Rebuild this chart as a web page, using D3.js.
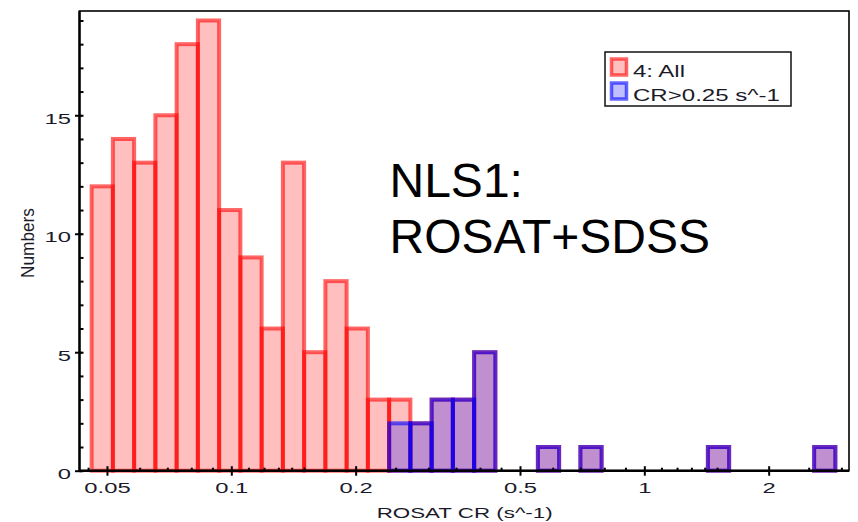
<!DOCTYPE html>
<html><head><meta charset="UTF-8">
<script src="https://cdn.jsdelivr.net/npm/d3@7/dist/d3.min.js"></script>
<style>
  body { margin:0; background:#fff; }
  text { font-family: "Liberation Sans", Arial, Helvetica, sans-serif; }
</style>
</head><body>
<svg id="chart" width="858" height="522"></svg>
<script>
// ───── data ─────
// histogram with equal bins in log10(CR)
const binStart = 0.0459;   // lower edge of first bin, s^-1
const binDex = 0.05145;    // bin width in dex
const allCounts    = [12,14,13,15,18,19,11,9,6,13,5,8,6,3,3,2,3,3,5,0,0,1,0,1,0,0,0,0,0,1,0,0,0,0,1];
const brightCounts = [0,0,0,0,0,0,0,0,0,0,0,0,0,0,2,2,3,3,5,0,0,1,0,1,0,0,0,0,0,1,0,0,0,0,1];
const xMajor = [0.05, 0.1, 0.2, 0.5, 1, 2];
const xMajorLabels = ['0.05', '0.1', '0.2', '0.5', '1', '2'];
const xMinorMantissa = [1.1, 1.2, 1.3, 1.4, 1.5, 2.5, 3, 3.5, 4, 4.5, 6, 7, 8, 9];
const yMajor = [0, 5, 10, 15];
const yMinor = d3.range(0, 20);
const seriesNames = ['4: All', 'CR>0.25 s^-1'];

// ───── layout ─────
const M = { left: 79.5, right: 849, top: 11, bottom: 470.7 };
const x = d3.scaleLog().domain([0.0429, 3.13]).range([M.left, M.right]);
const y = d3.scaleLinear().domain([0, 19.4]).range([M.bottom, M.top]);
const svg = d3.select('#chart');

const RED = { fill: 'rgba(255,0,0,0.25)', stroke: 'rgba(255,0,0,0.6)' };
const BLUE = { fill: 'rgba(0,0,255,0.25)', stroke: 'rgba(0,0,255,0.6)' };

function bins(counts) {
  return counts.map((c, i) => ({
    lo: binStart * Math.pow(10, i * binDex),
    hi: binStart * Math.pow(10, (i + 1) * binDex),
    n: c
  })).filter(b => b.n > 0);
}

function drawBars(counts, col) {
  svg.append('g').selectAll('rect')
    .data(bins(counts)).join('rect')
    .attr('x', d => x(d.lo)).attr('width', d => x(d.hi) - x(d.lo))
    .attr('y', d => y(d.n)).attr('height', d => y(0) - y(d.n))
    .attr('fill', col.fill).attr('stroke', col.stroke).attr('stroke-width', 4);
}
drawBars(allCounts, RED);
drawBars(brightCounts, BLUE);

// ───── axes ─────
const SX = 1.7; // tick labels are stretched horizontally in the original

const xMinor = [];
for (const d of [-2, -1, 0]) for (const m of xMinorMantissa) {
  const v = m * Math.pow(10, d);
  if (v > x.domain()[0] && v < x.domain()[1]) xMinor.push(v);
}

const gxMinor = svg.append('g').attr('transform', `translate(0,${M.bottom})`)
  .call(d3.axisBottom(x).tickValues(xMinor).tickSize(-3).tickFormat(''));
gxMinor.select('.domain').remove();
gxMinor.selectAll('.tick line').attr('stroke-width', 2);

const gx = svg.append('g').attr('transform', `translate(0,${M.bottom})`)
  .call(d3.axisBottom(x).tickValues(xMajor).tickFormat((d, i) => xMajorLabels[i]).tickSize(5));
gx.select('.domain').remove();
gx.selectAll('.tick line').attr('y1', -4.5).attr('y2', 5).attr('stroke-width', 2);
gx.selectAll('.tick text')
  .attr('y', 22).attr('dy', 0)
  .attr('transform', `scale(${SX},1)`)
  .attr('font-size', 14).attr('fill', '#1a1a2a');

const gyMinor = svg.append('g').attr('transform', `translate(${M.left},0)`)
  .call(d3.axisLeft(y).tickValues(yMinor).tickSize(-4).tickFormat(''));
gyMinor.select('.domain').remove();
gyMinor.selectAll('.tick line').attr('stroke-width', 2);

const gy = svg.append('g').attr('transform', `translate(${M.left},0)`)
  .call(d3.axisLeft(y).tickValues(yMajor).tickSize(5));
gy.select('.domain').remove();
gy.selectAll('.tick line').attr('x1', -4.5).attr('x2', 2.5).attr('stroke-width', 2);
gy.selectAll('.tick text')
  .attr('x', -8.5 / SX).attr('dy', 8)
  .attr('transform', `scale(${SX},1)`)
  .attr('font-size', 14).attr('fill', '#1a1a2a');

// frame
svg.append('rect')
  .attr('x', M.left).attr('y', M.top)
  .attr('width', M.right - M.left).attr('height', M.bottom - M.top)
  .attr('fill', 'none').attr('stroke', '#000').attr('stroke-width', 1.6);
svg.append('path')
  .attr('d', `M${M.left},${M.top}V${M.bottom}H${M.right}`)
  .attr('fill', 'none').attr('stroke', '#000').attr('stroke-width', 2.4);

// axis titles
svg.append('text')
  .attr('x', 376.7).attr('y', 517.5)
  .attr('font-size', 15).attr('fill', '#1a1a2a')
  .attr('textLength', 176).attr('lengthAdjust', 'spacingAndGlyphs')
  .text('ROSAT CR (s^-1)');
svg.append('text')
  .attr('transform', 'translate(33.5,278) rotate(-90)')
  .attr('font-size', 19).attr('fill', '#1a1a2a')
  .attr('textLength', 70).attr('lengthAdjust', 'spacingAndGlyphs')
  .text('Numbers');

// annotation
const note = svg.append('text').attr('font-size', 48).attr('fill', '#000');
note.append('tspan').attr('x', 389.5).attr('y', 196.7).text('NLS1:');
note.append('tspan').attr('x', 389.5).attr('y', 253.3).text('ROSAT+SDSS');

// legend
const lg = svg.append('g');
lg.append('rect')
  .attr('x', 605).attr('y', 52).attr('width', 186).attr('height', 54)
  .attr('fill', '#fff').attr('stroke', '#111').attr('stroke-width', 1.5);
const legendRows = [
  { name: seriesNames[0], col: RED, y: 57.5, w: 52 },
  { name: seriesNames[1], col: BLUE, y: 81.5, w: 147 }
];
legendRows.forEach(r => {
  lg.append('rect')
    .attr('x', 611.5).attr('y', r.y + 1.5).attr('width', 15).attr('height', 16)
    .attr('fill', r.col.fill).attr('stroke', r.col.stroke).attr('stroke-width', 3.5);
  lg.append('text')
    .attr('x', 633).attr('y', r.y + 19.5)
    .attr('font-size', 16).attr('fill', '#1a1a2a')
    .attr('textLength', r.w).attr('lengthAdjust', 'spacingAndGlyphs')
    .text(r.name);
});
</script>
</body></html>
